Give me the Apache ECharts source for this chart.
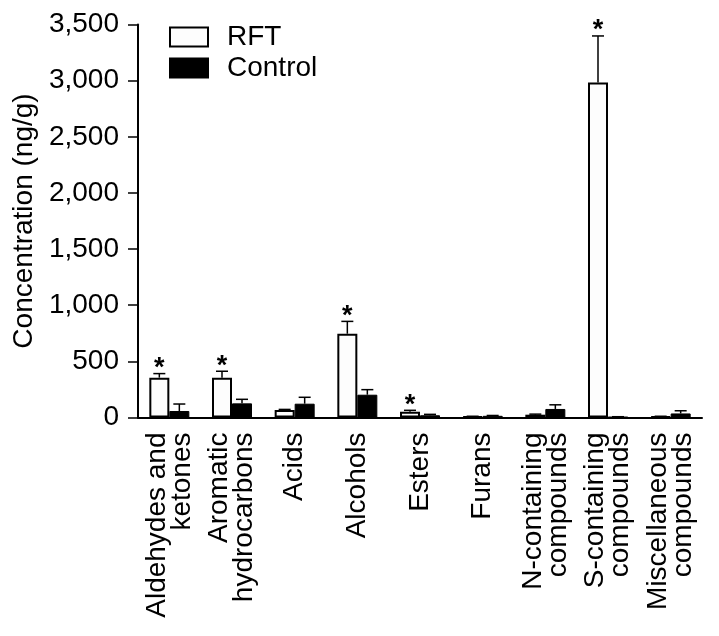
<!DOCTYPE html>
<html><head><meta charset="utf-8">
<script src="https://cdn.jsdelivr.net/npm/echarts@6/dist/echarts.min.js"></script>
<style>html,body{margin:0;padding:0;background:#fff}#c{width:719px;height:636px}</style>
</head><body><div id="c"></div>
<script>
var categories = ['Aldehydes and\nketones','Aromatic\nhydrocarbons','Acids','Alcohols','Esters','Furans','N-containing\ncompounds','S-containing\ncompounds','Miscellaneous\ncompounds'];
var rftValues = [355, 355, 67, 746, 52, 8, 25, 2983, 8];
var rftErrors = [36, 57, 5, 110, 12, 3, 5, 415, 3];
var controlValues = [58, 126, 123, 203, 20, 15, 76, 5, 36];
var controlErrors = [62, 36, 57, 45, 8, 3, 37, 2, 24];
var rftSignificant = [1, 1, 0, 1, 1, 0, 0, 1, 0];
var yTicks = [0, 500, 1000, 1500, 2000, 2500, 3000, 3500];

var FONT = 'Liberation Sans, Arial, sans-serif';
var BAR_W = 20;

function errData(vals, errs, sig) {
  return vals.map(function (v, i) { return [i, v, errs[i], sig ? sig[i] : 0]; });
}
function makeErrRender(shift) {
  return function (params, api) {
    var idx = api.value(0), v = api.value(1), e = api.value(2), s = api.value(3);
    var base = api.coord([idx, v]);
    var top = api.coord([idx, v + e]);
    var x = base[0] + shift;
    var children = [];
    if (e > 0) {
      children.push({ type: 'line', shape: { x1: x, y1: base[1], x2: x, y2: top[1] }, style: { stroke: '#000', lineWidth: 1.5 } });
      children.push({ type: 'line', shape: { x1: x - 6, y1: top[1], x2: x + 6, y2: top[1] }, style: { stroke: '#000', lineWidth: 1.5 } });
    }
    if (s) {
      children.push({ type: 'text', x: x, y: top[1] - 5, style: { text: '*', fontSize: 27, fontWeight: 'bold', fontFamily: FONT, fill: '#000', align: 'center', verticalAlign: 'middle' } });
    }
    return { type: 'group', children: children };
  };
}

var chart = echarts.init(document.getElementById('c'));
chart.setOption({
  animation: false,
  backgroundColor: '#fff',
  grid: { left: 138, right: 17, top: 24.5, bottom: 218.5, containLabel: false },
  legend: {
    orient: 'vertical', left: 164, top: 18, itemWidth: 38, itemHeight: 19, itemGap: 3, icon: 'rect',
    data: ['RFT', 'Control'],
    textStyle: { fontSize: 28, fontFamily: FONT, color: '#000', lineHeight: 19, padding: [0, 0, 0, 14] }
  },
  xAxis: {
    type: 'category', data: categories,
    axisLine: { lineStyle: { color: '#000', width: 2 } },
    axisTick: { length: 9, lineStyle: { color: '#000', width: 1.5 } },
    axisLabel: { rotate: 90, margin: 15, interval: 0, fontSize: 28, fontFamily: FONT, color: '#000', lineHeight: 25 }
  },
  yAxis: {
    type: 'value', min: 0, max: 3500, interval: 500,
    name: 'Concentration (ng/g)', nameLocation: 'middle', nameGap: 98, nameRotate: 90,
    nameTextStyle: { fontSize: 28, fontFamily: FONT, color: '#000' },
    axisLine: { show: true, lineStyle: { color: '#000', width: 2 } },
    axisTick: { show: true, length: 10, lineStyle: { color: '#000', width: 1.5 } },
    axisLabel: { margin: 19, fontSize: 28, fontFamily: FONT, color: '#000',
      formatter: function (v) { return yTicks.indexOf(v) >= 0 ? v.toLocaleString('en-US') : ''; } },
    splitLine: { show: false }
  },
  series: [
    { name: 'RFT', type: 'bar', data: rftValues, barWidth: BAR_W, barGap: '0%',
      itemStyle: { color: '#fdfdfd', borderColor: '#000', borderWidth: 2 } },
    { name: 'Control', type: 'bar', data: controlValues, barWidth: BAR_W, barGap: '0%',
      itemStyle: { color: '#000', borderColor: '#000', borderWidth: 1 } },
    { type: 'custom', data: errData(rftValues, rftErrors, rftSignificant), renderItem: makeErrRender(-BAR_W / 2), z: 5,
      encode: { x: 0, y: 1 } },
    { type: 'custom', data: errData(controlValues, controlErrors, null), renderItem: makeErrRender(BAR_W / 2), z: 5,
      encode: { x: 0, y: 1 } }
  ]
});
</script></body></html>
